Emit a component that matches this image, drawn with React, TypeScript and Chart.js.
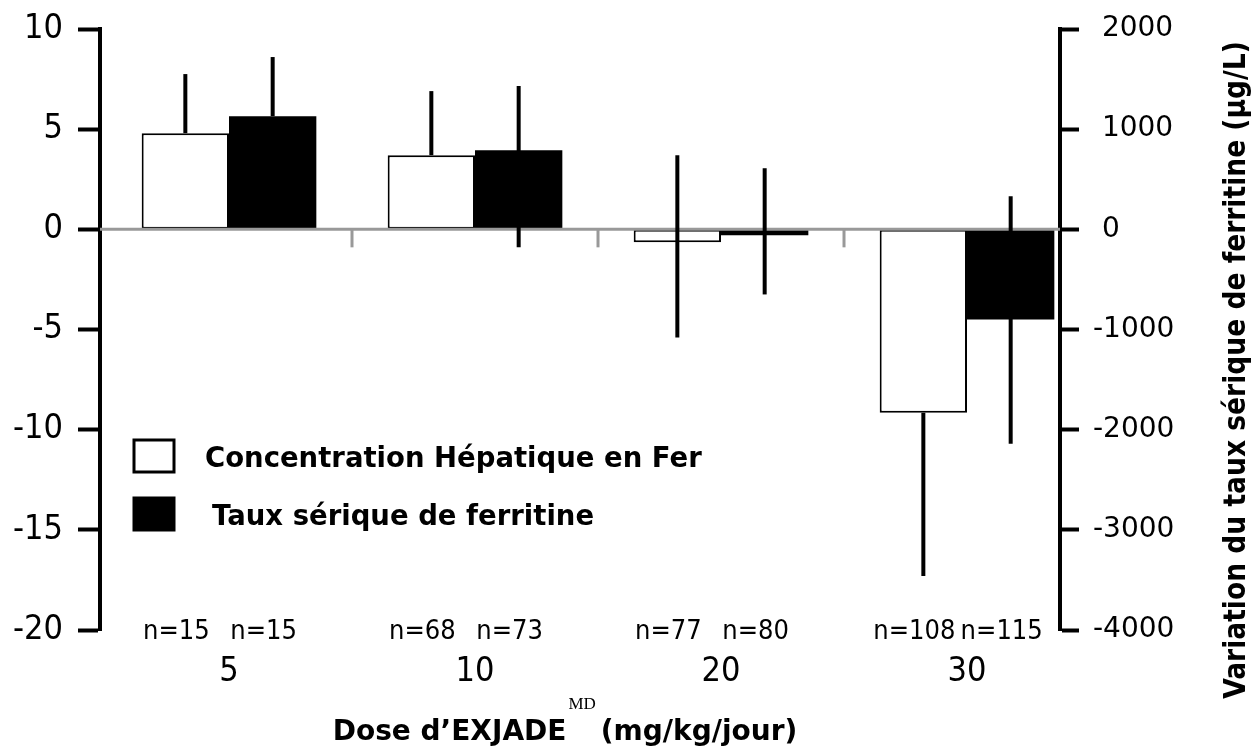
import React, { useEffect, useRef } from 'react';
import { Chart, registerables } from 'chart.js';

Chart.register(...registerables);

// ---- data ----
const doseLabels = ['5', '10', '20', '30'];
const hepaticIron = [4.8, 3.7, -0.65, -9.15];
const hepaticErrLow = [4.8, 3.7, -5.4, -17.3];
const hepaticErrHigh = [7.75, 6.9, 3.7, -9.15];
const ferritin = [1130, 790, -60, -900];
const ferritinErrLow = [1130, -180, -650, -2140];
const ferritinErrHigh = [1720, 1430, 610, 330];
const hepaticN = ['n=15', 'n=68', 'n=77', 'n=108'];
const ferritinN = ['n=15', 'n=73', 'n=80', 'n=115'];
const hepaticLabel = 'Concentration Hépatique en Fer';
const ferritinLabel = 'Taux sérique de ferritine';
const xTitleMain = 'Dose d’EXJADE';
const xTitleSup = 'MD';
const xTitleEnd = '(mg/kg/jour)';
const rightTitle = 'Variation du taux sérique de ferritine (µg/L)';

const COND = "'DejaVu Sans Condensed', 'DejaVu Sans', sans-serif";
const SANS = "'DejaVu Sans', sans-serif";

const overlayPlugin = {
  id: 'overlay',
  afterDatasetsDraw(chart: any) {
    const ctx = chart.ctx;
    const area = chart.chartArea;
    const yL = chart.scales.y;
    const xS = chart.scales.x;
    const y0 = yL.getPixelForValue(0);
    ctx.save();
    // zero line
    ctx.strokeStyle = '#999999';
    ctx.lineWidth = 3;
    ctx.beginPath();
    ctx.moveTo(area.left, y0);
    ctx.lineTo(area.right, y0);
    ctx.stroke();
    // small separators between dose groups
    for (let i = 0; i < doseLabels.length - 1; i++) {
      const xm = (xS.getPixelForValue(i) + xS.getPixelForValue(i + 1)) / 2;
      ctx.beginPath();
      ctx.moveTo(xm, y0);
      ctx.lineTo(xm, y0 + 18);
      ctx.stroke();
    }
    // error bars
    const errs = [
      [hepaticErrLow, hepaticErrHigh],
      [ferritinErrLow, ferritinErrHigh],
    ];
    ctx.strokeStyle = '#000';
    ctx.lineWidth = 4;
    ctx.lineCap = 'butt';
    chart.data.datasets.forEach((_ds: any, di: number) => {
      const meta = chart.getDatasetMeta(di);
      const sc = chart.scales[meta.yAxisID];
      meta.data.forEach((bar: any, j: number) => {
        const a = sc.getPixelForValue(errs[di][0][j]);
        const b = sc.getPixelForValue(errs[di][1][j]);
        ctx.beginPath();
        ctx.moveTo(bar.x, a);
        ctx.lineTo(bar.x, b);
        ctx.stroke();
      });
    });
    ctx.restore();
  },
  afterDraw(chart: any) {
    const ctx = chart.ctx;
    const area = chart.chartArea;
    ctx.save();
    ctx.fillStyle = '#000';
    // n labels
    const ns = [hepaticN, ferritinN];
    ctx.font = `27px ${COND}`;
    ctx.textAlign = 'center';
    ctx.textBaseline = 'middle';
    chart.data.datasets.forEach((_ds: any, di: number) => {
      const meta = chart.getDatasetMeta(di);
      meta.data.forEach((bar: any, j: number) => {
        ctx.fillText(ns[di][j], bar.x - 9, area.bottom + 2);
      });
    });
    // legend
    const lx = area.left + 34;
    const ly = [area.top + 427, area.top + 485];
    chart.data.datasets.forEach((ds: any, di: number) => {
      const top = ly[di] - 16;
      ctx.fillStyle = ds.backgroundColor;
      ctx.fillRect(lx, top, 40, 32);
      ctx.strokeStyle = '#000';
      ctx.lineWidth = 3;
      ctx.strokeRect(lx, top, 40, 32);
      ctx.fillStyle = '#000';
      ctx.font = `bold 27.5px ${SANS}`;
      ctx.textAlign = 'left';
      ctx.textBaseline = 'middle';
      ctx.fillText(ds.label, lx + 71 + di * 7, ly[di] + 4);
    });
    // x title with superscript
    ctx.textBaseline = 'alphabetic';
    ctx.textAlign = 'left';
    const mainFont = `bold 28px ${SANS}`;
    const supFont = `17px 'Liberation Serif', serif`;
    ctx.font = mainFont;
    const w1 = ctx.measureText(xTitleMain).width;
    const w3 = ctx.measureText(xTitleEnd).width;
    ctx.font = supFont;
    const w2 = ctx.measureText(xTitleSup).width;
    const total = w1 + 2 + w2 + 5 + w3;
    const cx = 565;
    let x = cx - total / 2;
    const base = 740;
    ctx.font = mainFont;
    ctx.fillText(xTitleMain, x, base);
    x += w1 + 2;
    ctx.font = supFont;
    ctx.fillText(xTitleSup, x, base - 31);
    x += w2 + 5;
    ctx.font = mainFont;
    ctx.fillText(xTitleEnd, x, base);
    // right title
    ctx.translate(1237, 370);
    ctx.rotate(-Math.PI / 2);
    ctx.textAlign = 'center';
    ctx.textBaseline = 'middle';
    ctx.font = `bold 29.5px ${COND}`;
    ctx.fillText(rightTitle, 0, 0);
    ctx.restore();
  },
};

const noVertPadding = (s: any, w: number) => {
  s.width = w;
  s.paddingTop = 0;
  s.paddingBottom = 0;
};

export default function App() {
  const ref = useRef<HTMLCanvasElement | null>(null);
  useEffect(() => {
    if (!ref.current) return;
    const chart = new Chart(ref.current, {
      type: 'bar',
      data: {
        datasets: [
          {
            label: hepaticLabel,
            data: doseLabels.map((_, i) => ({ x: i, y: hepaticIron[i] })),
            yAxisID: 'y',
            backgroundColor: '#ffffff',
            borderColor: '#000000',
            borderWidth: 2,
            borderSkipped: false,
            categoryPercentage: 0.71,
            barPercentage: 1.0,
          },
          {
            label: ferritinLabel,
            data: doseLabels.map((_, i) => ({ x: i, y: ferritin[i] })),
            yAxisID: 'y1',
            backgroundColor: '#000000',
            borderColor: '#000000',
            borderWidth: 0,
            categoryPercentage: 0.71,
            barPercentage: 1.0,
          },
        ],
      },
      options: {
        responsive: false,
        animation: false,
        layout: { padding: { top: 29, left: 0, right: 0, bottom: 0 } },
        plugins: {
          legend: { display: false },
          tooltip: { enabled: false },
          title: { display: false },
        },
        scales: {
          x: {
            type: 'linear',
            min: -0.5244,
            max: 3.378,
            offset: false,
            grid: { display: false, drawTicks: false },
            border: { display: false },
            afterBuildTicks: (s: any) => {
              s.ticks = doseLabels.map((_, i) => ({ value: i }));
            },
            ticks: {
              font: { family: COND, size: 34 },
              color: '#000',
              padding: 22,
              autoSkip: false,
              maxRotation: 0,
              callback: (v: any) => doseLabels[Math.round(Number(v))] ?? '',
            },
            afterFit: (s: any) => {
              s.height = 117;
              s.paddingLeft = 0;
              s.paddingRight = 0;
            },
          },
          y: {
            position: 'left',
            min: -20,
            max: 10,
            ticks: { stepSize: 5, font: { family: COND, size: 34 }, color: '#000', padding: 15 },
            grid: { drawOnChartArea: false, drawTicks: true, tickLength: 22, tickWidth: 4, tickColor: '#000' },
            border: { display: true, color: '#000', width: 4 },
            afterFit: (s: any) => noVertPadding(s, 100),
          },
          y1: {
            position: 'right',
            min: -4000,
            max: 2000,
            ticks: {
              stepSize: 1000,
              font: { family: SANS, size: 28 },
              color: '#000',
              padding: 14,
              callback: (v: any) => (Number(v) >= 0 ? ' ' + v : String(v)),
            },
            grid: { drawOnChartArea: false, drawTicks: true, tickLength: 19, tickWidth: 4, tickColor: '#000' },
            border: { display: true, color: '#000', width: 4 },
            afterFit: (s: any) => noVertPadding(s, 192),
          },
        },
      },
      plugins: [overlayPlugin],
    } as any);
    return () => chart.destroy();
  }, []);
  return (
    <div style={{ position: 'absolute', left: 0, top: 0, width: 1252, height: 747, background: '#fff' }}>
      <canvas ref={ref} width={1252} height={747} />
    </div>
  );
}
